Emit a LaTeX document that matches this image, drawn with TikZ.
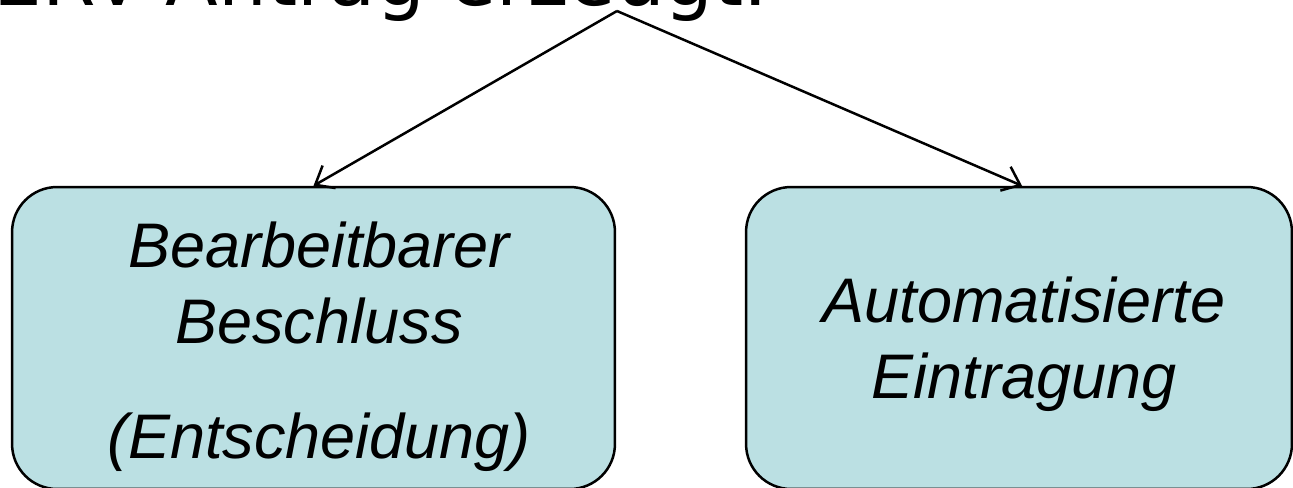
\documentclass[tikz,border=0pt]{standalone}
\usepackage{fontspec}
\setmainfont{Liberation Sans}
\newfontfamily\dejavu{DejaVu Sans}
\usetikzlibrary{arrows.meta}
\definecolor{boxfill}{RGB}{187,224,227}
\tikzset{
  box/.style={draw, line width=0.05cm, fill=boxfill, rounded corners=0.9cm,
    minimum height=6.04cm, inner sep=0pt},
  boxtext/.style={align=center, anchor=base,
    font=\fontsize{1.26cm}{1.52cm}\selectfont\itshape},
}
\begin{document}
\begin{tikzpicture}[x=0.02cm, y=-0.02cm]
\useasboundingbox (0,0) rectangle (1293,487);

\node[anchor=base west, inner sep=0pt, font=\dejavu\fontsize{1.54cm}{1.8cm}\selectfont] (erv) at (-7,5) {ERV-Antrag erzeugt.};
\coordinate (fork) at (617,11);

\node[box, minimum width=12.06cm] (dec) at (313.5,338) {};
\node[box, minimum width=10.92cm] (auto) at (1019,338) {};
\node[boxtext] (dectxt) at (319,458) {Bearbeitbarer\\Beschluss\\[0.78cm](Entscheidung)};
\node[boxtext] (autotxt) at (1024,398) {Automatisierte\\Eintragung};

\path[draw, line width=0.05cm, -{Straight Barb[length=0.32cm, width=0.52cm]}] (fork) -- (dec.north);
\path[draw, line width=0.05cm, -{Straight Barb[length=0.32cm, width=0.52cm]}] (fork) -- ([xshift=0.06cm]auto.north);
\end{tikzpicture}
\end{document}
